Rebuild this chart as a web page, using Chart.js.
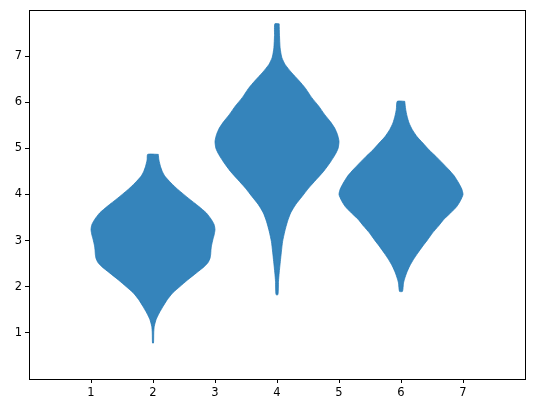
<!DOCTYPE html>
<html>
<head>
<meta charset="utf-8">
<script src="https://cdn.jsdelivr.net/npm/chart.js@4/dist/chart.umd.min.js"></script>
<style>
  html, body { margin: 0; padding: 0; background: #fff; }
  #wrap { width: 534px; height: 413px; }
</style>
</head>
<body>
<div id="wrap"><canvas id="myChart" width="534" height="413"></canvas></div>
<script>
// violin centers
const positions = [2, 4, 6];

// outline of each violin: y levels and half width at that level (max = 1)
const violinA_y = [4.87, 4.75, 4.61, 4.50, 4.40, 4.25, 4.11, 3.92, 3.74, 3.60, 3.46, 3.35, 3.24, 3.12, 3.02, 2.90, 2.80, 2.70, 2.62, 2.53, 2.44, 2.30, 2.15, 2.00, 1.87, 1.72, 1.57, 1.43, 1.29, 1.14, 1.00, 0.78];
const violinA_w = [0.085, 0.095, 0.12, 0.15, 0.19, 0.29, 0.40, 0.57, 0.74, 0.86, 0.94, 0.985, 1.0, 0.985, 0.965, 0.945, 0.935, 0.93, 0.92, 0.89, 0.83, 0.70, 0.56, 0.43, 0.32, 0.23, 0.16, 0.10, 0.05, 0.02, 0.012, 0.008];

const violinB_y = [7.70, 7.45, 7.18, 7.05, 6.96, 6.82, 6.65, 6.46, 6.30, 6.10, 5.92, 5.73, 5.58, 5.44, 5.30, 5.15, 5.00, 4.87, 4.70, 4.50, 4.32, 4.14, 3.95, 3.78, 3.60, 3.42, 3.20, 2.98, 2.75, 2.55, 2.30, 2.12, 1.83];
const violinB_w = [0.035, 0.04, 0.05, 0.065, 0.08, 0.13, 0.23, 0.36, 0.46, 0.56, 0.67, 0.77, 0.86, 0.93, 0.975, 1.0, 0.985, 0.94, 0.86, 0.75, 0.63, 0.51, 0.40, 0.30, 0.22, 0.17, 0.125, 0.09, 0.07, 0.054, 0.035, 0.024, 0.016];

const violinC_y = [6.02, 5.85, 5.70, 5.55, 5.41, 5.25, 5.12, 4.97, 4.83, 4.68, 4.54, 4.40, 4.25, 4.12, 4.00, 3.87, 3.74, 3.60, 3.46, 3.31, 3.17, 3.02, 2.88, 2.73, 2.59, 2.45, 2.30, 2.18, 2.08, 1.90];
const violinC_w = [0.06, 0.075, 0.097, 0.13, 0.18, 0.26, 0.35, 0.45, 0.56, 0.67, 0.77, 0.86, 0.93, 0.98, 1.0, 0.96, 0.90, 0.80, 0.69, 0.60, 0.51, 0.43, 0.35, 0.27, 0.20, 0.14, 0.09, 0.06, 0.04, 0.024];

const xTicks = [1, 2, 3, 4, 5, 6, 7];
const yTicks = [1, 2, 3, 4, 5, 6, 7];

const violinColor = 'rgba(31, 119, 180, 0.9)';

function outline(center, ys, ws) {
    let pts = [];
    for (let i = 0; i < ys.length; i++) {
        pts.push({ x: center + ws[i], y: ys[i] });
    }
    for (let i = ys.length - 1; i >= 0; i--) {
        pts.push({ x: center - ws[i], y: ys[i] });
    }
    pts.push(pts[0]);
    return pts;
}

const shapes = [
    outline(positions[0], violinA_y, violinA_w),
    outline(positions[1], violinB_y, violinB_w),
    outline(positions[2], violinC_y, violinC_w)
];

const frame = {
    id: 'frame',
    afterDraw(chart) {
        const a = chart.chartArea;
        const c = chart.ctx;
        c.save();
        c.strokeStyle = '#000';
        c.lineWidth = 1;
        c.strokeRect(Math.round(a.left) + 0.5, Math.round(a.top) + 0.5,
            Math.round(a.right - a.left), Math.round(a.bottom - a.top));
        c.restore();
    }
};

const ctx = document.getElementById('myChart');

new Chart(ctx, {
    type: 'scatter',
    data: {
        datasets: shapes.map(pts => ({
            data: pts,
            showLine: true,
            fill: 'shape',
            backgroundColor: violinColor,
            borderColor: violinColor,
            borderWidth: 0.8,
            borderCapStyle: 'butt',
            borderJoinStyle: 'miter',
            pointRadius: 0,
            tension: 0.2
        }))
    },
    options: {
        responsive: false,
        animation: false,
        events: [],
        layout: { padding: { top: 10, right: 9, left: 0, bottom: 0 } },
        plugins: { legend: { display: false }, tooltip: { enabled: false } },
        scales: {
            x: {
                type: 'linear',
                min: 0,
                max: 8,
                afterBuildTicks: s => { s.ticks = xTicks.map(v => ({ value: v })); },
                afterFit: s => { s.height = 34; },
                grid: { drawOnChartArea: false, tickLength: 4, tickColor: '#000', tickWidth: 1 },
                border: { display: false },
                ticks: { color: '#000', padding: 3, maxRotation: 0, font: { family: 'DejaVu Sans', size: 11.5 } }
            },
            y: {
                type: 'linear',
                min: 0,
                max: 8,
                afterBuildTicks: s => { s.ticks = yTicks.map(v => ({ value: v })); },
                afterFit: s => { s.width = 29; },
                grid: { drawOnChartArea: false, tickLength: 4, tickColor: '#000', tickWidth: 1 },
                border: { display: false },
                ticks: { color: '#000', padding: 3, font: { family: 'DejaVu Sans', size: 11.5 } }
            }
        }
    },
    plugins: [frame]
});
</script>
</body>
</html>
